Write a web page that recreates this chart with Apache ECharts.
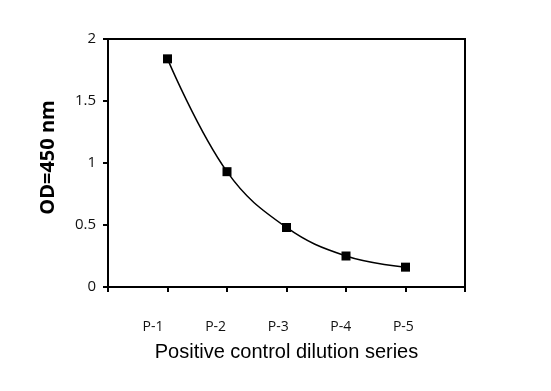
<!DOCTYPE html>
<html><head><meta charset="utf-8">
<script src="https://cdn.jsdelivr.net/npm/echarts@6/dist/echarts.min.js"></script>
<style>html,body{margin:0;padding:0;background:#fff}#c{width:551px;height:391px}</style>
</head><body><div id="c"></div>
<script>
const categories = ["P-1", "P-2", "P-3", "P-4", "P-5"];
const odValues = [1.84, 0.93, 0.48, 0.25, 0.16];
const yTicks = [0, 0.5, 1, 1.5, 2];

const chart = echarts.init(document.getElementById('c'));
const catPos = categories.map((c, i) => i + 1);
chart.setOption({
  animation: false,
  backgroundColor: '#fff',
  grid: { left: 108, right: 86, top: 39, bottom: 104, show: true, borderColor: '#000', borderWidth: 2, backgroundColor: 'transparent' },
  xAxis: [{
    type: 'value', min: 0, max: categories.length + 1, interval: 1,
    name: 'Positive control dilution series', nameLocation: 'middle', nameGap: 55,
    nameTextStyle: { fontFamily: 'Liberation Sans, Arial', fontSize: 20, color: '#000' },
    axisLine: { lineStyle: { color: '#000', width: 2 } },
    axisTick: { show: true, length: 5, lineStyle: { color: '#000', width: 2 } },
    splitLine: { show: false },
    axisLabel: { show: false }
  }, {
    type: 'value', position: 'bottom', min: 0.281, max: 5.984,
    axisLine: { show: false }, axisTick: { show: false }, splitLine: { show: false },
    axisLabel: { margin: 33, fontFamily: 'Open Sans, DejaVu Sans', fontSize: 14, color: '#111',
      customValues: catPos,
      formatter: v => categories[Math.round(v) - 1] || '' }
  }],
  yAxis: {
    type: 'value', min: yTicks[0], max: yTicks[yTicks.length - 1], interval: 0.5,
    name: 'OD=450 nm', nameLocation: 'middle', nameGap: 50, nameRotate: 90,
    nameTextStyle: { fontFamily: 'Open Sans, DejaVu Sans', fontSize: 20, fontWeight: 'bold', color: '#000', padding: [0, 0, 0, 11] },
    axisLine: { show: true, lineStyle: { color: '#000', width: 2 } },
    axisTick: { show: true, length: 5, lineStyle: { color: '#000', width: 2 } },
    splitLine: { show: false },
    axisLabel: { margin: 12, fontFamily: 'Open Sans, DejaVu Sans', fontSize: 15, color: '#111' }
  },
  series: [{
    type: 'line', smooth: 0.4, xAxisIndex: 0,
    data: odValues.map((v, i) => [i + 1, v]),
    symbol: 'rect', symbolSize: 9,
    itemStyle: { color: '#000' },
    lineStyle: { color: '#000', width: 1.5 }
  }]
});
</script></body></html>
